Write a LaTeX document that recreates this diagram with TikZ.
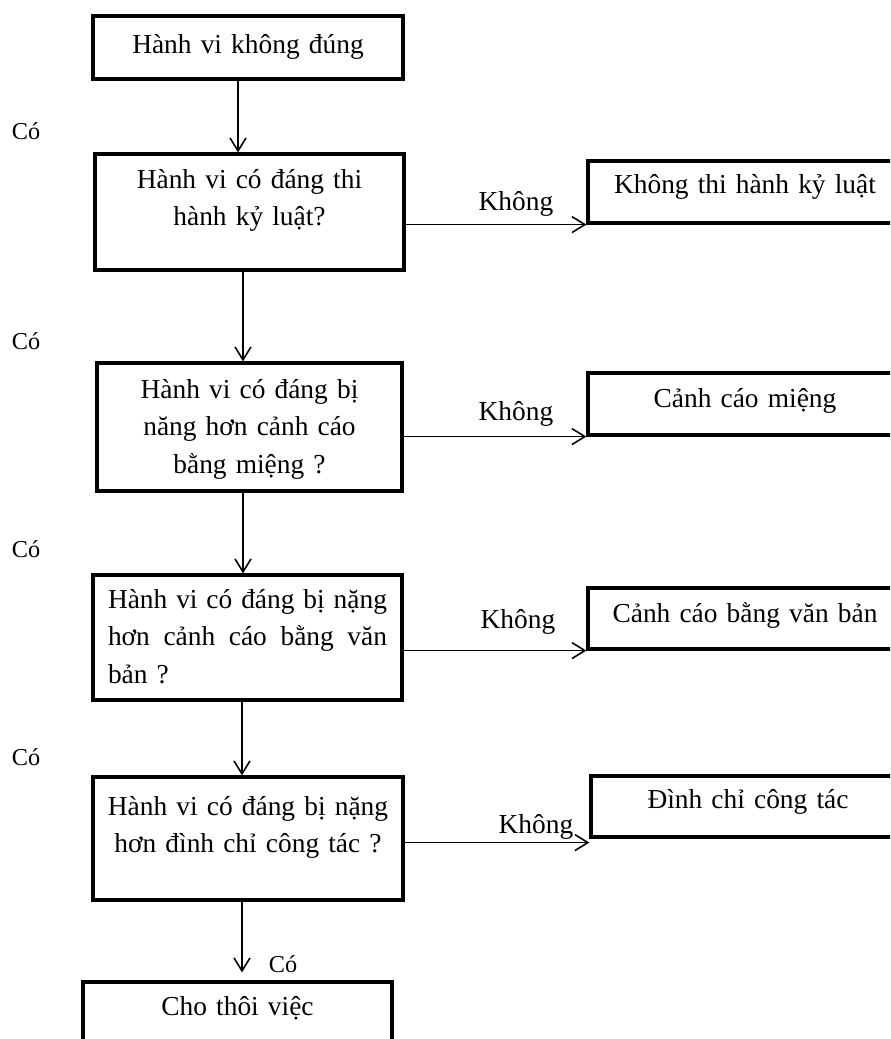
\documentclass[tikz,border=0pt]{standalone}
\usepackage{fontspec}
\setmainfont{Liberation Serif}
\usetikzlibrary{arrows.meta}
\setlength{\parindent}{0pt}

\begin{document}
\begin{tikzpicture}[x=1cm,y=1cm,
  box/.style={draw, line width=1.8pt, inner xsep=0.3cm, inner ysep=0pt, align=center, anchor=base,
    font=\fontsize{15.6}{21.6}\selectfont},
  lbl/.style={anchor=base, inner sep=0pt, font=\fontsize{15.6}{21.6}\selectfont},
  yes/.style={anchor=base, inner sep=0pt, font=\fontsize{13.8}{16}\selectfont},
  arr/.style={-{Straight Barb[length=0.26cm,width=0.32cm]}, line width=0.9pt}]
\clip (0,0) rectangle (17.8,-20.78);

% main column
\node[box, text width=5.6cm, text height=0.74cm, text depth=0.52cm] (b1) at (4.96,-1.06) {Hành vi không đúng};
\node[box, text width=5.58cm, text height=0.68cm, text depth=1.64cm] (b2) at (4.99,-3.76) {Hành vi có đáng thi\\hành kỷ luật?};
\node[box, text width=5.5cm, text height=0.70cm, text depth=1.86cm] (b3) at (4.99,-7.96) {Hành vi có đáng bị\\năng hơn cảnh cáo\\bằng miệng ?};
\node[box, align=left, text width=5.58cm, text height=0.66cm, text depth=1.84cm] (b4) at (4.95,-12.16)
  {\makebox[5.58cm][s]{Hành\hfill vi\hfill có\hfill đáng\hfill bị\hfill nặng}\\
   \makebox[5.58cm][s]{hơn\hfill cảnh\hfill cáo\hfill bằng\hfill văn}\\bản ?};
\node[box, inner xsep=0.1cm, text width=6.0cm, text height=0.76cm, text depth=1.7cm] (b5) at (4.96,-16.3) {Hành vi có đáng bị nặng\\hơn đình chỉ công tác ?};
\node[box, text width=5.58cm, text height=0.66cm, text depth=1.2cm] (b6) at (4.75,-20.3) {Cho thôi việc};

% right column
\node[box, text width=5.68cm, text height=0.64cm, text depth=0.6cm] (r1) at (14.9,-3.86) {Không thi hành kỷ luật};
\node[box, text width=5.68cm, text height=0.68cm, text depth=0.56cm] (r2) at (14.9,-8.14) {Cảnh cáo miệng};
\node[box, text width=5.68cm, text height=0.68cm, text depth=0.54cm] (r3) at (14.9,-12.44) {Cảnh cáo bằng văn bản};
\node[box, text width=5.68cm, text height=0.64cm, text depth=0.58cm] (r4) at (14.96,-16.16) {Đình chỉ công tác};

% labels
\node[yes] (c1) at (0.52,-2.78) {Có};
\node[yes] (c2) at (0.52,-6.98) {Có};
\node[yes] (c3) at (0.52,-11.14) {Có};
\node[yes] (c4) at (0.52,-15.3) {Có};
\node[yes] (c5) at (5.66,-19.44) {Có};

\node[lbl] (k1) at (10.32,-4.2) {Không};
\node[lbl] (k2) at (10.32,-8.4) {Không};
\node[lbl] (k3) at (10.36,-12.56) {Không};
\node[lbl] (k4) at (10.72,-16.66) {Không};

% arrows down
\draw[arr] ([xshift=-0.2cm]b1.south) -- ([xshift=-0.2cm]b1.south |- b2.north);
\draw[arr] ([xshift=-0.13cm]b2.south) -- ([xshift=-0.13cm]b2.south |- b3.north);
\draw[arr] ([xshift=-0.13cm]b3.south) -- ([xshift=-0.13cm]b3.south |- b4.north);
\draw[arr] ([xshift=-0.11cm]b4.south) -- ([xshift=-0.11cm]b4.south |- b5.north);
\draw[arr, shorten >=0.16cm] ([xshift=-0.12cm]b5.south) -- ([xshift=-0.12cm]b5.south |- b6.north);

% arrows right
\coordinate (h4) at ([yshift=-0.08cm]r4.south west);
\draw[arr] (b2.east |- r1.south west) -- (r1.south west);
\draw[arr] (b3.east |- r2.south west) -- (r2.south west);
\draw[arr] (b4.east |- r3.south west) -- (r3.south west);
\draw[arr] (b5.east |- h4) -- (h4);
\end{tikzpicture}
\end{document}
